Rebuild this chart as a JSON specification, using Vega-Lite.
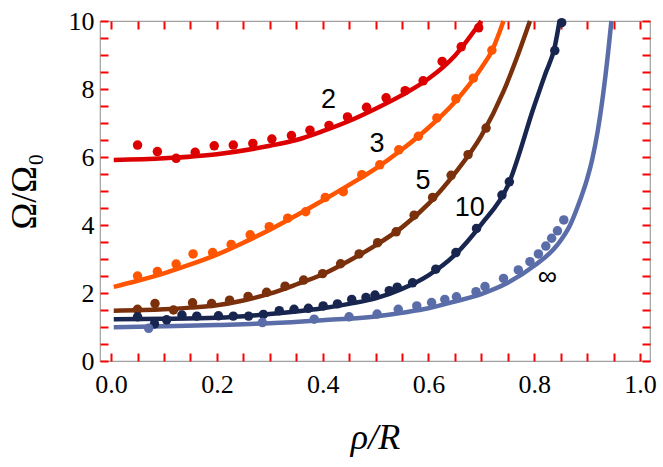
{
  "$schema": "https://vega.github.io/schema/vega-lite/v6.json",
  "width": 550,
  "height": 340,
  "autosize": {"type": "none"},
  "padding": {"left": 100, "top": 21, "right": 13, "bottom": 106},
  "background": "white",
  "config": {
    "view": {"stroke": "#a0a0a0", "strokeWidth": 1.2},
    "axis": {"grid": false, "domain": false, "labelColor": "black", "titleColor": "black", "labelFont": "Liberation Serif", "labelFontSize": 26, "titleFont": "Liberation Serif"}
  },
  "datasets": {
    "curves": [
      {"s": "2", "x": 0.005, "y": 5.91}, {"s": "2", "x": 0.1, "y": 5.96}, {"s": "2", "x": 0.2, "y": 6.08}, {"s": "2", "x": 0.3, "y": 6.33}, {"s": "2", "x": 0.35, "y": 6.5}, {"s": "2", "x": 0.4, "y": 6.76}, {"s": "2", "x": 0.45, "y": 7.06}, {"s": "2", "x": 0.5, "y": 7.42}, {"s": "2", "x": 0.55, "y": 7.82}, {"s": "2", "x": 0.6, "y": 8.3}, {"s": "2", "x": 0.65, "y": 8.98}, {"s": "2", "x": 0.7, "y": 10.0},
      {"s": "3", "x": 0.005, "y": 2.18}, {"s": "3", "x": 0.05, "y": 2.36}, {"s": "3", "x": 0.1, "y": 2.58}, {"s": "3", "x": 0.15, "y": 2.84}, {"s": "3", "x": 0.2, "y": 3.13}, {"s": "3", "x": 0.25, "y": 3.48}, {"s": "3", "x": 0.3, "y": 3.86}, {"s": "3", "x": 0.35, "y": 4.28}, {"s": "3", "x": 0.4, "y": 4.72}, {"s": "3", "x": 0.45, "y": 5.18}, {"s": "3", "x": 0.5, "y": 5.66}, {"s": "3", "x": 0.55, "y": 6.22}, {"s": "3", "x": 0.6, "y": 6.86}, {"s": "3", "x": 0.65, "y": 7.62}, {"s": "3", "x": 0.7, "y": 8.62}, {"s": "3", "x": 0.72, "y": 9.12}, {"s": "3", "x": 0.742, "y": 10.0},
      {"s": "5", "x": 0.005, "y": 1.48}, {"s": "5", "x": 0.1, "y": 1.52}, {"s": "5", "x": 0.15, "y": 1.57}, {"s": "5", "x": 0.2, "y": 1.64}, {"s": "5", "x": 0.25, "y": 1.78}, {"s": "5", "x": 0.3, "y": 1.98}, {"s": "5", "x": 0.35, "y": 2.25}, {"s": "5", "x": 0.4, "y": 2.55}, {"s": "5", "x": 0.45, "y": 2.95}, {"s": "5", "x": 0.5, "y": 3.4}, {"s": "5", "x": 0.55, "y": 3.93}, {"s": "5", "x": 0.6, "y": 4.62}, {"s": "5", "x": 0.65, "y": 5.52}, {"s": "5", "x": 0.7, "y": 6.62}, {"s": "5", "x": 0.742, "y": 7.93}, {"s": "5", "x": 0.767, "y": 8.91}, {"s": "5", "x": 0.792, "y": 10.0},
      {"s": "10", "x": 0.005, "y": 1.23}, {"s": "10", "x": 0.1, "y": 1.24}, {"s": "10", "x": 0.2, "y": 1.27}, {"s": "10", "x": 0.3, "y": 1.38}, {"s": "10", "x": 0.4, "y": 1.55}, {"s": "10", "x": 0.45, "y": 1.68}, {"s": "10", "x": 0.5, "y": 1.84}, {"s": "10", "x": 0.55, "y": 2.12}, {"s": "10", "x": 0.6, "y": 2.52}, {"s": "10", "x": 0.65, "y": 3.12}, {"s": "10", "x": 0.7, "y": 4.02}, {"s": "10", "x": 0.75, "y": 5.15}, {"s": "10", "x": 0.8, "y": 7.5}, {"s": "10", "x": 0.82, "y": 8.4}, {"s": "10", "x": 0.839, "y": 9.25}, {"s": "10", "x": 0.848, "y": 10.0},
      {"s": "∞", "x": 0.005, "y": 0.99}, {"s": "∞", "x": 0.1, "y": 1.02}, {"s": "∞", "x": 0.2, "y": 1.06}, {"s": "∞", "x": 0.3, "y": 1.11}, {"s": "∞", "x": 0.4, "y": 1.2}, {"s": "∞", "x": 0.5, "y": 1.31}, {"s": "∞", "x": 0.55, "y": 1.42}, {"s": "∞", "x": 0.6, "y": 1.55}, {"s": "∞", "x": 0.65, "y": 1.75}, {"s": "∞", "x": 0.7, "y": 1.97}, {"s": "∞", "x": 0.75, "y": 2.3}, {"s": "∞", "x": 0.8, "y": 2.8}, {"s": "∞", "x": 0.843, "y": 3.4}, {"s": "∞", "x": 0.868, "y": 4.0}, {"s": "∞", "x": 0.887, "y": 4.74}, {"s": "∞", "x": 0.9, "y": 5.35}, {"s": "∞", "x": 0.91, "y": 5.95}, {"s": "∞", "x": 0.92, "y": 6.75}, {"s": "∞", "x": 0.93, "y": 7.8}, {"s": "∞", "x": 0.94, "y": 9.1}, {"s": "∞", "x": 0.946, "y": 10.0}
    ],
    "points": [
      {"s": "2", "x": 0.05, "y": 6.35}, {"s": "2", "x": 0.0875, "y": 6.16}, {"s": "2", "x": 0.123, "y": 5.96}, {"s": "2", "x": 0.159, "y": 6.14}, {"s": "2", "x": 0.195, "y": 6.33}, {"s": "2", "x": 0.231, "y": 6.35}, {"s": "2", "x": 0.268, "y": 6.4}, {"s": "2", "x": 0.304, "y": 6.53}, {"s": "2", "x": 0.341, "y": 6.63}, {"s": "2", "x": 0.376, "y": 6.79}, {"s": "2", "x": 0.412, "y": 6.93}, {"s": "2", "x": 0.447, "y": 7.18}, {"s": "2", "x": 0.483, "y": 7.46}, {"s": "2", "x": 0.52, "y": 7.74}, {"s": "2", "x": 0.556, "y": 7.95}, {"s": "2", "x": 0.59, "y": 8.24}, {"s": "2", "x": 0.626, "y": 8.81}, {"s": "2", "x": 0.662, "y": 9.24}, {"s": "2", "x": 0.695, "y": 9.8},
      {"s": "3", "x": 0.05, "y": 2.5}, {"s": "3", "x": 0.0875, "y": 2.63}, {"s": "3", "x": 0.123, "y": 2.85}, {"s": "3", "x": 0.155, "y": 3.15}, {"s": "3", "x": 0.192, "y": 3.19}, {"s": "3", "x": 0.227, "y": 3.43}, {"s": "3", "x": 0.263, "y": 3.71}, {"s": "3", "x": 0.299, "y": 3.95}, {"s": "3", "x": 0.334, "y": 4.2}, {"s": "3", "x": 0.368, "y": 4.39}, {"s": "3", "x": 0.405, "y": 4.81}, {"s": "3", "x": 0.439, "y": 4.98}, {"s": "3", "x": 0.474, "y": 5.48}, {"s": "3", "x": 0.508, "y": 5.77}, {"s": "3", "x": 0.544, "y": 6.21}, {"s": "3", "x": 0.581, "y": 6.61}, {"s": "3", "x": 0.616, "y": 7.15}, {"s": "3", "x": 0.652, "y": 7.71}, {"s": "3", "x": 0.685, "y": 8.32}, {"s": "3", "x": 0.72, "y": 9.14},
      {"s": "5", "x": 0.05, "y": 1.52}, {"s": "5", "x": 0.083, "y": 1.69}, {"s": "5", "x": 0.118, "y": 1.5}, {"s": "5", "x": 0.154, "y": 1.71}, {"s": "5", "x": 0.19, "y": 1.69}, {"s": "5", "x": 0.224, "y": 1.79}, {"s": "5", "x": 0.259, "y": 1.9}, {"s": "5", "x": 0.294, "y": 2.02}, {"s": "5", "x": 0.329, "y": 2.2}, {"s": "5", "x": 0.364, "y": 2.38}, {"s": "5", "x": 0.4, "y": 2.57}, {"s": "5", "x": 0.434, "y": 2.86}, {"s": "5", "x": 0.469, "y": 3.15}, {"s": "5", "x": 0.504, "y": 3.48}, {"s": "5", "x": 0.539, "y": 3.8}, {"s": "5", "x": 0.573, "y": 4.29}, {"s": "5", "x": 0.608, "y": 4.81}, {"s": "5", "x": 0.643, "y": 5.46}, {"s": "5", "x": 0.675, "y": 6.07}, {"s": "5", "x": 0.709, "y": 6.85},
      {"s": "10", "x": 0.05, "y": 1.3}, {"s": "10", "x": 0.082, "y": 1.09}, {"s": "10", "x": 0.105, "y": 1.21}, {"s": "10", "x": 0.134, "y": 1.35}, {"s": "10", "x": 0.162, "y": 1.32}, {"s": "10", "x": 0.203, "y": 1.33}, {"s": "10", "x": 0.231, "y": 1.32}, {"s": "10", "x": 0.26, "y": 1.32}, {"s": "10", "x": 0.288, "y": 1.37}, {"s": "10", "x": 0.318, "y": 1.48}, {"s": "10", "x": 0.346, "y": 1.52}, {"s": "10", "x": 0.373, "y": 1.55}, {"s": "10", "x": 0.401, "y": 1.62}, {"s": "10", "x": 0.428, "y": 1.68}, {"s": "10", "x": 0.455, "y": 1.81}, {"s": "10", "x": 0.482, "y": 1.87}, {"s": "10", "x": 0.499, "y": 1.94}, {"s": "10", "x": 0.526, "y": 2.07}, {"s": "10", "x": 0.541, "y": 2.17}, {"s": "10", "x": 0.57, "y": 2.3}, {"s": "10", "x": 0.614, "y": 2.7}, {"s": "10", "x": 0.652, "y": 3.19}, {"s": "10", "x": 0.691, "y": 3.9}, {"s": "10", "x": 0.739, "y": 4.88}, {"s": "10", "x": 0.753, "y": 5.27}, {"s": "10", "x": 0.839, "y": 9.13}, {"s": "10", "x": 0.852, "y": 9.95},
      {"s": "∞", "x": 0.071, "y": 0.96}, {"s": "∞", "x": 0.286, "y": 1.13}, {"s": "∞", "x": 0.384, "y": 1.23}, {"s": "∞", "x": 0.45, "y": 1.3}, {"s": "∞", "x": 0.503, "y": 1.38}, {"s": "∞", "x": 0.543, "y": 1.52}, {"s": "∞", "x": 0.578, "y": 1.62}, {"s": "∞", "x": 0.606, "y": 1.72}, {"s": "∞", "x": 0.631, "y": 1.81}, {"s": "∞", "x": 0.653, "y": 1.89}, {"s": "∞", "x": 0.69, "y": 2.04}, {"s": "∞", "x": 0.707, "y": 2.19}, {"s": "∞", "x": 0.742, "y": 2.43}, {"s": "∞", "x": 0.77, "y": 2.68}, {"s": "∞", "x": 0.792, "y": 2.92}, {"s": "∞", "x": 0.808, "y": 3.15}, {"s": "∞", "x": 0.822, "y": 3.38}, {"s": "∞", "x": 0.833, "y": 3.61}, {"s": "∞", "x": 0.844, "y": 3.83}, {"s": "∞", "x": 0.856, "y": 4.15}
    ],
    "labels": [
      {"t": "2", "x": 0.411, "y": 7.69},
      {"t": "3", "x": 0.503, "y": 6.38},
      {"t": "5", "x": 0.59, "y": 5.28},
      {"t": "10", "x": 0.678, "y": 4.5},
      {"t": "∞", "x": 0.825, "y": 2.46}
    ]
  },
  "layer": [
    {
      "data": {"name": "curves"},
      "mark": {"type": "line", "strokeWidth": 4.5, "interpolate": "monotone"},
      "encoding": {
        "x": {
          "field": "x", "type": "quantitative",
          "scale": {"domain": [-0.021, 1.019], "nice": false, "zero": false},
          "axis": {
            "orient": "bottom", "values": [0, 0.2, 0.4, 0.6, 0.8, 1],
            "tickColor": "white", "tickOpacity": 0, "tickWidth": 1, "tickSize": 8,
            "title": "ρ/R", "titleFontStyle": "italic", "titleFontWeight": "normal", "titleFontSize": 36,
            "titleX": 275, "titleY": 87, "titleBaseline": "alphabetic", "titleAlign": "center"
          }
        },
        "y": {
          "field": "y", "type": "quantitative",
          "scale": {"domain": [0, 10], "nice": false, "zero": false},
          "axis": {
            "orient": "left", "values": [0, 2, 4, 6, 8, 10],
            "tickColor": "white", "tickOpacity": 0, "tickWidth": 1, "tickSize": 4,
            "title": "Ω/Ω₀", "titleFontWeight": "normal", "titleFontSize": 36,
            "titleX": -65, "titleY": 170, "titleAngle": 270, "titleBaseline": "alphabetic", "titleAlign": "center"
          }
        },
        "color": {
          "field": "s", "type": "nominal",
          "scale": {"domain": ["2", "3", "5", "10", "∞"], "range": ["#DD0000", "#FF5500", "#7B300C", "#18264F", "#5A6DA8"]},
          "legend": null
        }
      }
    },
    {
      "data": {"name": "points"},
      "mark": {"type": "circle", "size": 90, "opacity": 1},
      "encoding": {
        "x": {
          "field": "x", "type": "quantitative",
          "scale": {"domain": [-0.021, 1.019], "nice": false, "zero": false},
          "axis": {"orient": "top", "offset": -340, "values": [0, 0.05, 0.1, 0.15, 0.2, 0.25, 0.3, 0.35, 0.4, 0.45, 0.5, 0.55, 0.6, 0.65, 0.7, 0.75, 0.8, 0.85, 0.9, 0.95, 1], "labels": false, "tickColor": "red", "tickWidth": 2, "tickSize": 8, "title": null}
        },
        "y": {
          "field": "y", "type": "quantitative",
          "scale": {"domain": [0, 10], "nice": false, "zero": false},
          "axis": {"orient": "right", "offset": -550, "values": [0, 0.5, 1, 1.5, 2, 2.5, 3, 3.5, 4, 4.5, 5, 5.5, 6, 6.5, 7, 7.5, 8, 8.5, 9, 9.5, 10], "labels": false, "tickColor": "red", "tickWidth": 2, "tickSize": 8, "title": null}
        },
        "color": {
          "field": "s", "type": "nominal",
          "scale": {"domain": ["2", "3", "5", "10", "∞"], "range": ["#DD0000", "#FF5500", "#7B300C", "#18264F", "#5A6DA8"]},
          "legend": null
        }
      }
    },
    {
      "data": {"name": "labels"},
      "mark": {"type": "text", "fontSize": 27, "font": "Liberation Sans"},
      "encoding": {
        "x": {
          "field": "x", "type": "quantitative",
          "scale": {"domain": [-0.021, 1.019], "nice": false, "zero": false},
          "axis": {"orient": "bottom", "offset": -340, "values": [0, 0.05, 0.1, 0.15, 0.2, 0.25, 0.3, 0.35, 0.4, 0.45, 0.5, 0.55, 0.6, 0.65, 0.7, 0.75, 0.8, 0.85, 0.9, 0.95, 1], "labels": false, "tickColor": "red", "tickWidth": 2, "tickSize": 8, "title": null}
        },
        "y": {
          "field": "y", "type": "quantitative",
          "scale": {"domain": [0, 10], "nice": false, "zero": false},
          "axis": {"orient": "left", "offset": -550, "values": [0, 0.5, 1, 1.5, 2, 2.5, 3, 3.5, 4, 4.5, 5, 5.5, 6, 6.5, 7, 7.5, 8, 8.5, 9, 9.5, 10], "labels": false, "tickColor": "red", "tickWidth": 2, "tickSize": 8, "title": null}
        },
        "text": {"field": "t"}
      }
    }
  ],
  "resolve": {"axis": {"x": "independent", "y": "independent"}}
}
